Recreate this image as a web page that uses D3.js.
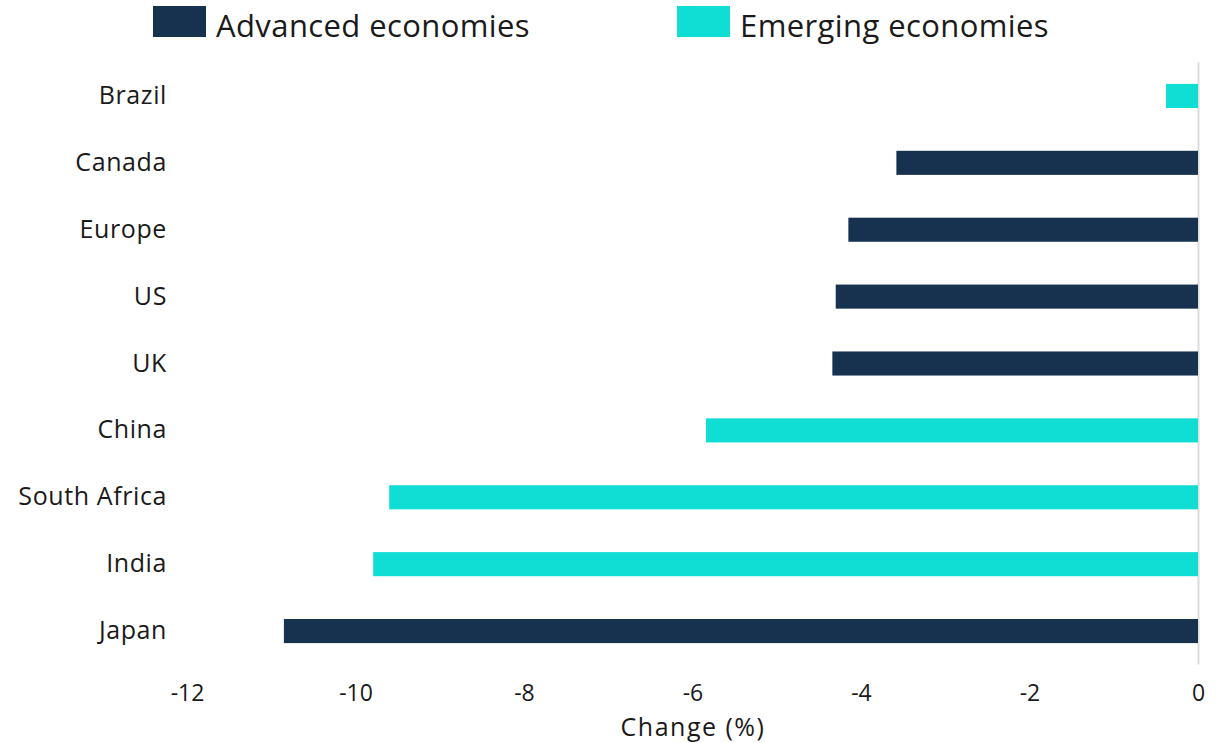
<!DOCTYPE html>
<html>
<head>
<meta charset="utf-8">
<script src="https://cdn.jsdelivr.net/npm/d3@7"></script>
<style>
  html, body { margin: 0; padding: 0; background: #fff; }
  svg { display: block; }
  text { font-family: "Open Sans", "DejaVu Sans", sans-serif; fill: #1a1a1a; }
</style>
</head>
<body>
<svg id="chart" width="1227" height="743"></svg>
<script>
// Change in output by economy (%)
const countries = ["Brazil", "Canada", "Europe", "US", "UK", "China", "South Africa", "India", "Japan"];
const changes   = [-0.38, -3.58, -4.15, -4.30, -4.34, -5.84, -9.60, -9.79, -10.85];
const groups    = ["Emerging", "Advanced", "Advanced", "Advanced", "Advanced", "Emerging", "Emerging", "Emerging", "Advanced"];

const legendKeys   = ["Advanced", "Emerging"];
const legendLabels = ["Advanced economies", "Emerging economies"];
const xTicks = [-12, -10, -8, -6, -4, -2, 0];
const xTitle = "Change (%)";

const colors = { Advanced: "#16324f", Emerging: "#10ddd4" };

const svg = d3.select("#chart");

const x = d3.scaleLinear().domain([-12, 0]).range([187, 1198]);
const y = d3.scaleBand().domain(countries).range([62.5, 664.5])
  .paddingInner(0.64).paddingOuter(0.32);

// zero reference line
svg.append("line")
  .attr("x1", x(0) + 0.5).attr("x2", x(0) + 0.5)
  .attr("y1", y.range()[0]).attr("y2", y.range()[1])
  .attr("stroke", "#dcdcdc").attr("stroke-width", 2);

// bars
svg.append("g").selectAll("rect")
  .data(countries)
  .join("rect")
  .attr("x", (d, i) => x(changes[i]))
  .attr("width", (d, i) => x(0) - x(changes[i]))
  .attr("y", d => y(d))
  .attr("height", y.bandwidth())
  .attr("fill", (d, i) => colors[groups[i]]);

// category axis
const yAxis = svg.append("g")
  .attr("transform", "translate(178,0)")
  .call(d3.axisLeft(y).tickSize(0).tickPadding(11));
yAxis.select(".domain").remove();
yAxis.selectAll("text")
  .style("font-family", '"Open Sans", sans-serif')
  .style("font-size", "25px")
  .style("letter-spacing", "0.6px")
  .attr("fill", "#1a1a1a");

// value axis
const xAxis = svg.append("g")
  .attr("transform", "translate(0,677)")
  .call(d3.axisBottom(x).tickValues(xTicks).tickFormat(d3.format("d")).tickSize(0).tickPadding(8));
xAxis.select(".domain").remove();
xAxis.selectAll("text")
  .style("font-family", '"Open Sans", sans-serif')
  .style("font-size", "23px")
  .attr("fill", "#1a1a1a")
  .text(d => d === 0 ? "0" : String(d).replace("\u2212", "-"));

svg.append("text")
  .attr("x", 693).attr("y", 736)
  .attr("text-anchor", "middle")
  .style("font-size", "25px")
  .style("letter-spacing", "1.5px")
  .text(xTitle);

// legend
const legendX = [153, 677];
const legend = svg.append("g").selectAll("g")
  .data(legendKeys)
  .join("g")
  .attr("transform", (d, i) => `translate(${legendX[i]},6)`);
legend.append("rect")
  .attr("width", 53).attr("height", 31)
  .attr("fill", d => colors[d]);
legend.append("text")
  .attr("x", 63).attr("y", 30.5)
  .style("font-size", "31px")
  .style("letter-spacing", "0.4px")
  .text((d, i) => legendLabels[i]);
</script>
</body>
</html>
